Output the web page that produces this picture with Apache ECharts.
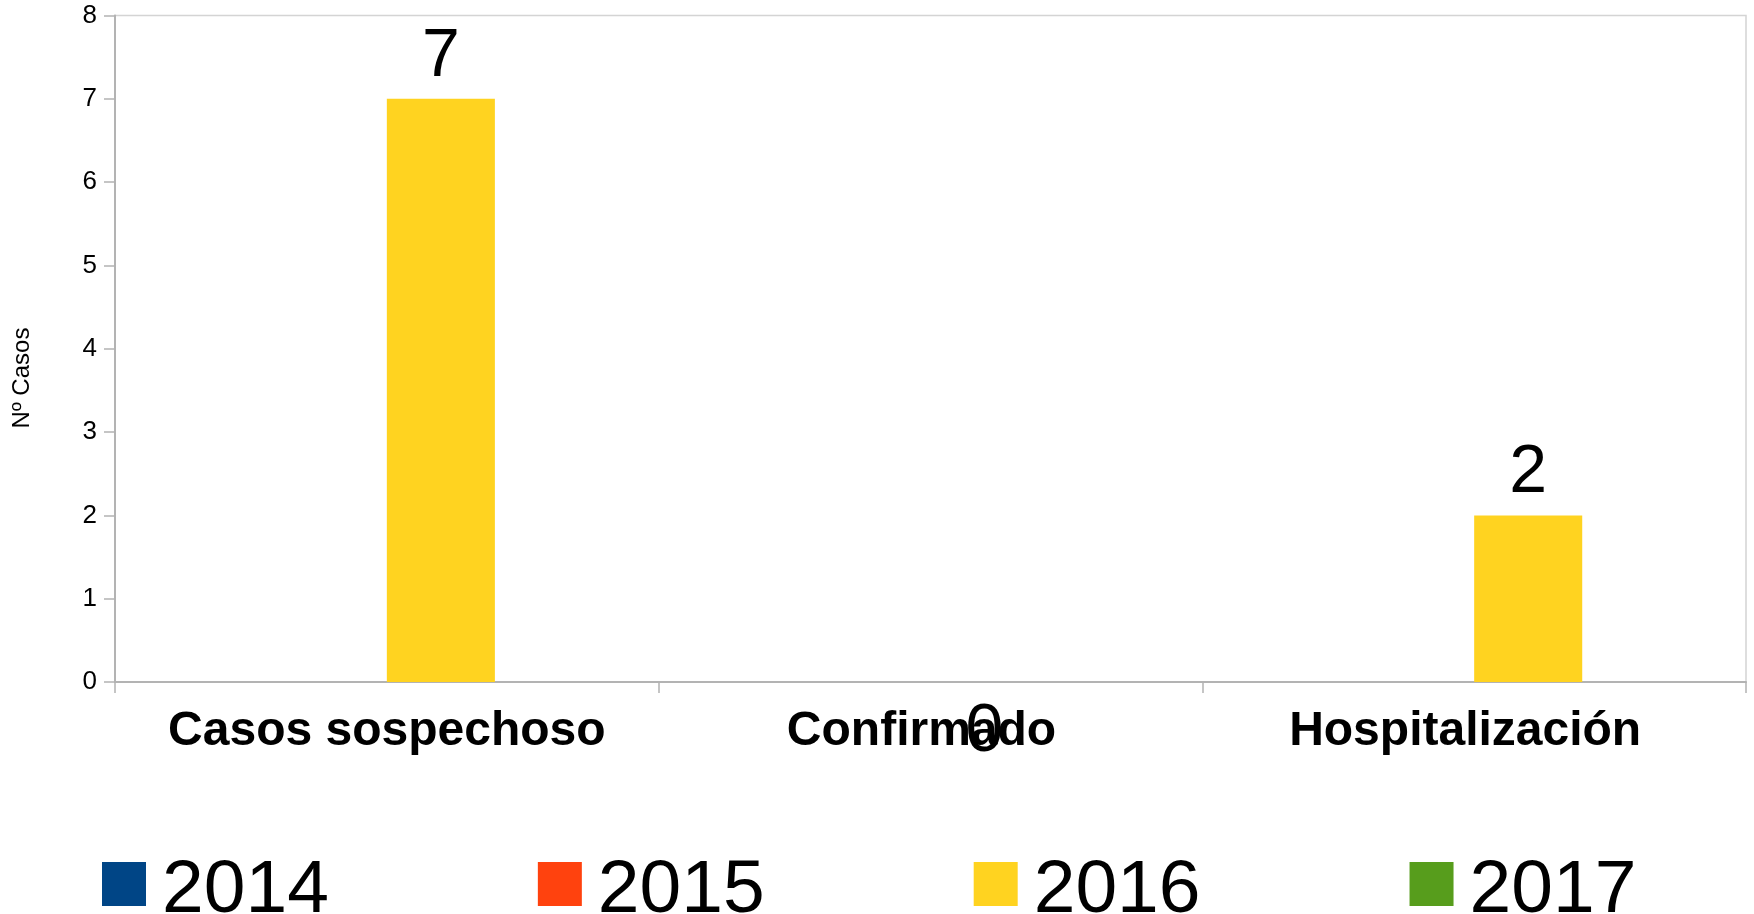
<!DOCTYPE html>
<html>
<head>
<meta charset="utf-8">
<script src="https://cdn.jsdelivr.net/npm/echarts@6/dist/echarts.min.js"></script>
<style>
  html, body { margin: 0; padding: 0; background: #fff; }
  #main { width: 1754px; height: 914px; }
</style>
</head>
<body>
<div id="main"></div>
<script>
var categories = ['Casos sospechoso', 'Confirmado', 'Hospitalización'];
var years = ['2014', '2015', '2016', '2017'];
var colors = ['#004586', '#ff420e', '#ffd320', '#579d1c'];
var values2014 = ['-', '-', '-'];
var values2015 = ['-', '-', '-'];
var values2016 = [7, 0, 2];
var values2017 = ['-', '-', '-'];
var yTicks = {min: 0, max: 8, interval: 1};

var font = 'Liberation Sans, Arial, sans-serif';

function makeSeries(name, values, color) {
  return {
    name: name,
    type: 'bar',
    barGap: '0%',
    barCategoryGap: '20.5%',
    itemStyle: {color: color},
    label: {
      show: name === '2016',
      position: 'top',
      distance: 8,
      fontSize: 68,
      fontFamily: font,
      color: '#000'
    },
    labelLayout: {hideOverlap: false},
    data: values.map(function (v) {
      // LibreOffice puts the label of a zero bar below the axis
      if (v === 0) return {value: 0, label: {position: 'bottom', distance: 16}};
      return v;
    })
  };
}

var myChart = echarts.init(document.getElementById('main'));

var labelStyle = {
  fontSize: 48,
  fontWeight: 'bold',
  fontFamily: font,
  color: '#000'
};

var option = {
  animation: false,
  color: colors,
  grid: {
    left: 115,
    right: 8,
    top: 15.5,
    bottom: 232,
    show: true,
    borderColor: '#d4d4d4',
    borderWidth: 1.5
  },
  legend: {
    left: 97,
    top: 849,
    icon: 'rect',
    itemWidth: 44,
    itemHeight: 44,
    itemGap: 209,
    formatter: '{y|{name}}',
    textStyle: {
      fontSize: 75,
      fontFamily: font,
      color: '#000',
      padding: [0, 0, 0, 11],
      rich: {
        y: {fontSize: 75, fontFamily: font, color: '#000', padding: [15, 0, 0, 0]}
      }
    },
    data: years
  },
  graphic: [{
    type: 'text',
    x: 22,
    y: 378,
    rotation: Math.PI / 2,
    style: {
      text: 'Nº Casos',
      x: 0,
      y: 0,
      align: 'center',
      verticalAlign: 'middle',
      fontSize: 24,
      fontFamily: font,
      fill: '#000'
    }
  }],
  xAxis: {
    type: 'category',
    data: categories,
    axisLine: {lineStyle: {color: '#b3b3b3', width: 2}},
    axisTick: {show: true, length: 11, lineStyle: {color: '#b3b3b3', width: 1.5}},
    axisLabel: {
      interval: 0,
      margin: 26,
      formatter: function (v, i) {
        return i === 0 ? '{a|' + v + '}' : '{b|' + v + '}';
      },
      rich: {
        a: labelStyle,
        b: Object.assign({padding: [0, 18, 0, 0]}, labelStyle)
      }
    }
  },
  yAxis: {
    type: 'value',
    min: yTicks.min,
    max: yTicks.max,
    interval: yTicks.interval,
    axisLine: {show: true, lineStyle: {color: '#b3b3b3', width: 2}},
    axisTick: {show: true, length: 11, lineStyle: {color: '#b3b3b3', width: 1.5}},
    splitLine: {show: false},
    axisLabel: {
      fontSize: 26,
      fontFamily: font,
      color: '#000',
      margin: 18
    }
  },
  series: [
    makeSeries('2014', values2014, colors[0]),
    makeSeries('2015', values2015, colors[1]),
    makeSeries('2016', values2016, colors[2]),
    makeSeries('2017', values2017, colors[3])
  ]
};

myChart.setOption(option);
</script>
</body>
</html>
